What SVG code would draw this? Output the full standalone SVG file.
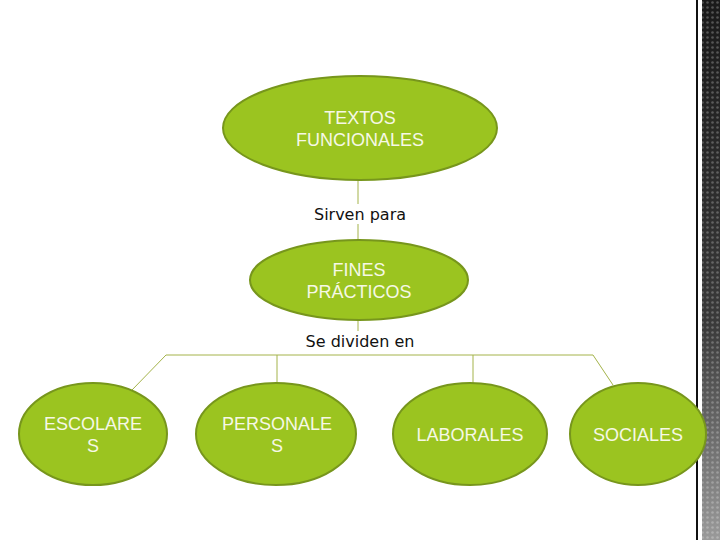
<svg xmlns="http://www.w3.org/2000/svg" width="720" height="540" viewBox="0 0 720 540">
<defs>
<style>
.node{fill:#9bc420;stroke:#77961c;stroke-width:2}
.nt{font-family:"Liberation Sans",Arial,sans-serif;font-size:18px;fill:#f6f8e6;text-anchor:middle}
.lbl{font-family:"DejaVu Sans","Open Sans",sans-serif;font-size:16px;fill:#111;text-anchor:middle}
.conn{stroke:#a4b34a;stroke-width:1;fill:none}
</style>
<linearGradient id="strip" x1="0" y1="0" x2="0" y2="1">
<stop offset="0" stop-color="#1a1a1a"/>
<stop offset="0.6" stop-color="#3a3a3a"/>
<stop offset="1" stop-color="#9a9a9a"/>
</linearGradient>
<pattern id="dots" width="5" height="5" patternUnits="userSpaceOnUse">
<circle cx="2.5" cy="2.5" r="1.3" fill="#ffffff" fill-opacity="0.25"/>
</pattern>
</defs>
<rect width="720" height="540" fill="#ffffff"/>
<g id="strip-deco">
<rect x="696" y="0" width="2" height="540" fill="#111"/>
<rect x="702" y="0" width="18" height="540" fill="url(#strip)"/>
<rect x="702" y="0" width="18" height="540" fill="url(#dots)"/>
</g>
<g id="connectors">
<line class="conn" x1="358" y1="180" x2="358" y2="204"/>
<line class="conn" x1="358" y1="224" x2="358" y2="241"/>
<line class="conn" x1="358" y1="320" x2="358" y2="331"/>
<polyline class="conn" points="132,390 166,355 593,355 613,385"/>
<line class="conn" x1="277" y1="355" x2="277" y2="383"/>
<line class="conn" x1="473" y1="355" x2="473" y2="383"/>
</g>
<g id="n-textos">
<ellipse class="node" cx="360" cy="128" rx="137" ry="52"/>
<text class="nt" x="360" y="124">TEXTOS</text>
<text class="nt" x="360" y="146">FUNCIONALES</text>
</g>
<g id="l-sirven"><text class="lbl" x="360" y="220">Sirven para</text></g>
<g id="n-fines">
<ellipse class="node" cx="359" cy="280" rx="109" ry="40"/>
<text class="nt" x="359" y="276">FINES</text>
<text class="nt" x="359" y="298">PRÁCTICOS</text>
</g>
<g id="l-dividen"><text class="lbl" x="360" y="347">Se dividen en</text></g>
<g id="n-escolares">
<ellipse class="node" cx="93" cy="434" rx="74" ry="51"/>
<text class="nt" x="93" y="430">ESCOLARE</text>
<text class="nt" x="93" y="452">S</text>
</g>
<g id="n-personales">
<ellipse class="node" cx="276" cy="434" rx="80" ry="51"/>
<text class="nt" x="277" y="430">PERSONALE</text>
<text class="nt" x="277" y="452">S</text>
</g>
<g id="n-laborales">
<ellipse class="node" cx="470" cy="434" rx="77" ry="51"/>
<text class="nt" x="470" y="441">LABORALES</text>
</g>
<g id="n-sociales">
<ellipse class="node" cx="638" cy="434" rx="68" ry="51"/>
<text class="nt" x="638" y="441">SOCIALES</text>
</g>
</svg>
